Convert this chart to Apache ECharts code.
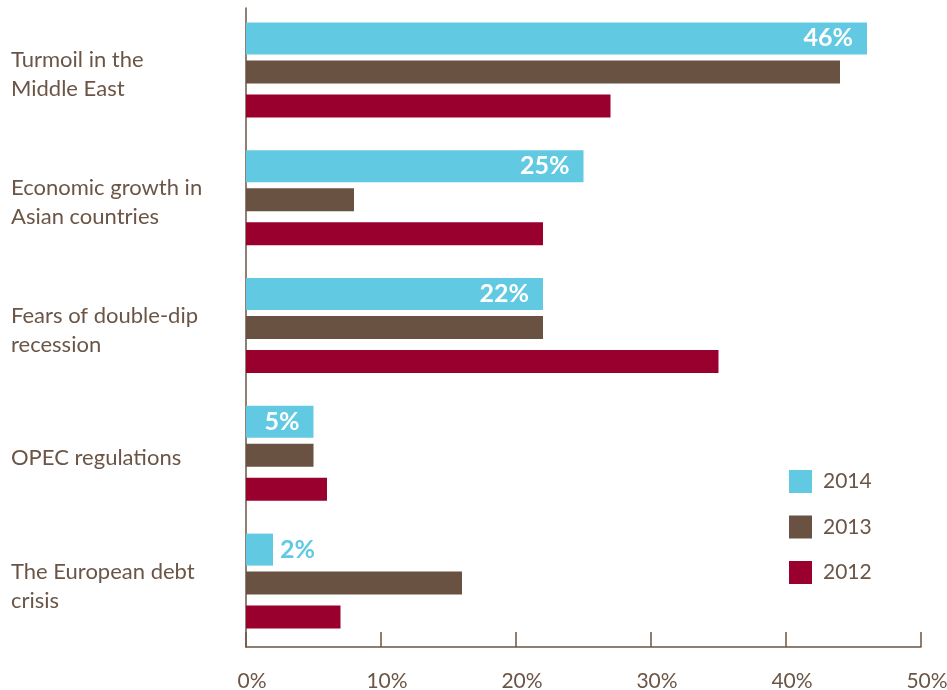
<!DOCTYPE html>
<html>
<head>
<meta charset="utf-8">
<script src="https://cdn.jsdelivr.net/npm/echarts@6/dist/echarts.min.js"></script>
<style>
html,body{margin:0;padding:0;background:#fff;}
#chart{width:947px;height:690px;}
</style>
</head>
<body>
<div id="chart"></div>
<script>
const categories = ["Turmoil in the\nMiddle East", "Economic growth in\nAsian countries", "Fears of double-dip\nrecession", "OPEC regulations", "The European debt\ncrisis"];
const seriesNames = ["2014", "2013", "2012"];
const values2014 = [46, 25, 22, 5, 2];
const values2013 = [44, 8, 22, 5, 16];
const values2012 = [27, 22, 35, 6, 7];
const xTicks = [0, 10, 20, 30, 40, 50];

const C14 = '#62c9e2', C13 = '#695242', C12 = '#99002e';
const TXT = '#6b5546';
const FONT = 'Lato';

const chart = echarts.init(document.getElementById('chart'));
const gTop = 8, gH = 639, gLeft = 246, gW = 675;

function hiddenX(i){ return {gridIndex:i, type:'value', min:0, max:50, interval:10, show:false}; }
function hiddenY(i){ return {gridIndex:i, type:'category', inverse:true, data:categories, show:false}; }
function mkGrid(top){ return {left: gLeft, top: top, width: gW, height: gH, outerBoundsMode: 'none', containLabel: false}; }

const option = {
  animation: false,
  textStyle: {fontFamily: FONT},
  grid: [mkGrid(gTop), mkGrid(gTop - 33.5), mkGrid(gTop + 34), mkGrid(gTop + 3)],
  legend: {
    orient: 'vertical', left: 789, top: 470, padding: 0,
    itemWidth: 23, itemHeight: 23, itemGap: 22.5, icon: 'rect',
    data: ['2014', '2013', '2012'],
    textStyle: {color: TXT, fontSize: 21, fontFamily: FONT, padding: [0,0,0,6]}
  },
  xAxis: [
    {gridIndex:0, type:'value', min: xTicks[0], max: xTicks[xTicks.length-1], interval: 10,
     axisLine:{show:true, lineStyle:{color:TXT, width:1.5}},
     axisTick:{show:true, inside:true, length:15, lineStyle:{color:TXT, width:1.5}},
     splitLine:{show:false},
     axisLabel:{formatter:'{value}%', color:TXT, fontSize:21, fontFamily:FONT, margin:24, padding:[0,0,0,12]}},
    hiddenX(1), hiddenX(2), hiddenX(3)
  ],
  yAxis: [
    {gridIndex:0, type:'category', inverse:true, data:categories,
     axisLine:{show:true, lineStyle:{color:TXT, width:1.5}},
     axisTick:{show:false},
     axisLabel:{show:false}},
    hiddenY(1), hiddenY(2),
    {gridIndex:3, type:'category', inverse:true, data:categories,
     axisLine:{show:false}, axisTick:{show:false}, splitLine:{show:false},
     axisLabel:{color:TXT, fontSize:22, fontFamily:FONT, align:'left', margin:235, lineHeight:29}}
  ],
  series: [
    {name: seriesNames[0], type:'bar', xAxisIndex:1, yAxisIndex:1, barWidth:32,
     itemStyle:{color:C14},
     label:{show:true, position:'insideRight', distance:14, color:'#fff', fontWeight:'bold', fontSize:25, fontFamily:FONT, formatter:'{c}%'},
     data: values2014.map(v => v < 4 ? {value:v, label:{position:'right', color:C14, distance:7}} : v)},
    {name: seriesNames[1], type:'bar', xAxisIndex:0, yAxisIndex:0, barWidth:23,
     itemStyle:{color:C13}, data: values2013},
    {name: seriesNames[2], type:'bar', xAxisIndex:2, yAxisIndex:2, barWidth:23,
     itemStyle:{color:C12}, data: values2012}
  ]
};
chart.setOption(option);
</script>
</body>
</html>
